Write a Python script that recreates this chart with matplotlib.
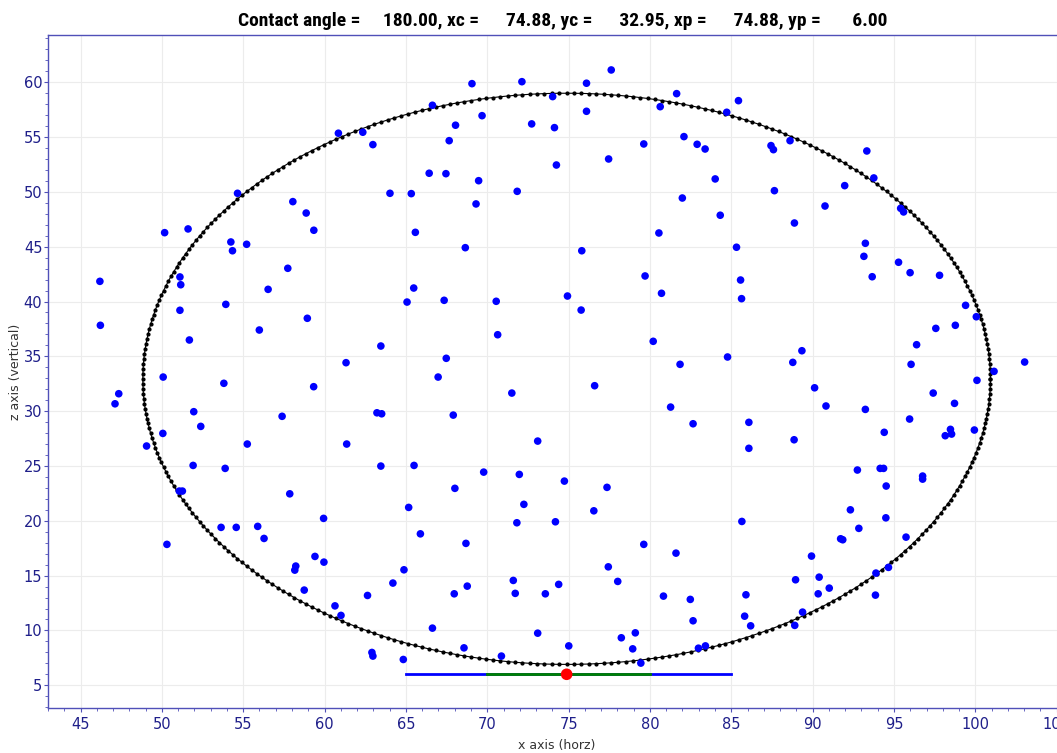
import numpy as np
import matplotlib
matplotlib.use("Agg")
import matplotlib.pyplot as plt
from matplotlib.ticker import MultipleLocator

# fit results shown in the title
contact_angle = 180.00
xc = 74.88
yc = 32.95
xp = 74.88
yp = 6.00
radius = 26.05

# base line segments (outer blue, inner green)
base_x = [65, 85]
inner_x = [70, 80]

# measured points
pts_x = [
    50.17, 51.61, 54.65, 54.24, 54.34, 55.21, 57.74, 58.05, 58.87, 59.34,
    60.85, 62.35, 62.97, 46.19, 46.22, 51.11, 51.16, 51.11, 51.69, 53.93,
    56.53, 55.99, 58.94, 63.46, 61.32, 50.08, 53.81, 59.33, 47.35, 47.12,
    51.96, 52.39, 57.39, 63.22, 63.51, 50.06, 49.06, 55.25, 61.36, 51.92,
    53.89, 63.46, 51.07, 51.26, 50.31, 57.86, 53.64, 54.57, 55.89, 56.28,
    59.94, 59.41, 59.96, 58.23, 58.17, 58.75, 60.64, 61.01, 62.64, 62.91,
    62.97, 69.06, 72.13, 76.10, 77.62, 81.64, 66.63, 74.02, 76.10, 80.63,
    68.05, 69.68, 72.73, 74.13, 67.66, 79.62, 82.09, 82.90, 83.39, 77.46,
    74.25, 66.43, 67.46, 69.47, 64.02, 65.33, 71.84, 69.31, 81.99, 65.58,
    68.65, 75.81, 80.55, 85.44, 84.72, 84.01, 87.44, 87.59, 88.61, 87.65,
    84.32, 88.88, 90.76, 91.97, 93.33, 93.76, 95.41, 95.59, 85.32, 93.24,
    93.15, 95.28, 85.57, 85.63, 93.66, 95.99, 97.80, 99.40, 100.06, 97.57,
    98.77, 96.39, 96.05, 84.77, 89.34, 88.78, 101.15, 103.03, 100.10, 90.12,
    90.82, 93.24, 97.41, 98.72, 95.96, 86.08, 86.08, 88.86, 94.40, 98.47,
    98.54, 98.15, 99.94, 92.75, 94.15, 94.36, 94.52, 96.76, 96.76, 85.65,
    92.32, 94.50, 92.84, 91.72, 91.85, 95.74, 89.93, 88.95, 90.40, 91.02,
    90.34, 93.89, 94.66, 93.86, 85.90, 85.82, 86.19, 88.90, 89.38, 83.41,
    68.01, 77.36, 65.17, 72.25, 76.55, 71.82, 74.19, 65.89, 68.69, 79.62,
    81.60, 64.88, 64.20, 67.97, 68.77, 71.60, 71.72, 73.57, 74.39, 77.44,
    78.02, 80.83, 82.48, 82.65, 66.63, 73.10, 78.24, 79.10, 78.94, 79.44,
    68.57, 70.87, 75.01, 64.84, 82.98, 65.48, 65.07, 67.35, 70.55, 74.93,
    75.77, 79.70, 80.71, 80.20, 81.85, 67.48, 66.98, 70.64, 76.60, 71.51,
    81.27, 82.65, 67.91, 73.10, 65.50, 69.78, 71.97, 74.74,
]
pts_y = [
    46.28, 46.62, 49.87, 45.43, 44.63, 45.22, 43.03, 49.11, 48.07, 46.50,
    55.35, 55.44, 54.31, 41.84, 37.83, 42.24, 41.53, 39.20, 36.49, 39.74,
    41.11, 37.40, 38.47, 35.94, 34.42, 33.11, 32.54, 32.23, 31.59, 30.67,
    29.95, 28.61, 29.53, 29.85, 29.76, 27.97, 26.82, 27.00, 27.00, 25.05,
    24.78, 24.99, 22.71, 22.71, 17.85, 22.46, 19.40, 19.40, 19.49, 18.39,
    20.22, 16.75, 16.23, 15.87, 15.50, 13.68, 12.24, 11.37, 13.19, 7.99,
    7.66, 59.87, 60.05, 59.91, 61.12, 58.96, 57.90, 58.69, 57.35, 57.77,
    56.08, 56.95, 56.20, 55.86, 54.67, 54.37, 55.04, 54.34, 53.91, 53.00,
    52.45, 51.70, 51.66, 51.02, 49.87, 49.84, 50.05, 48.90, 49.44, 46.31,
    44.91, 44.63, 46.25, 58.32, 57.26, 51.18, 54.22, 53.85, 54.67, 50.11,
    47.87, 47.16, 48.71, 50.57, 53.73, 51.27, 48.50, 48.17, 44.95, 45.31,
    44.12, 43.58, 41.96, 40.26, 42.26, 42.63, 42.39, 39.65, 38.61, 37.55,
    37.83, 36.06, 34.27, 34.94, 35.51, 34.45, 33.63, 34.48, 32.81, 32.13,
    30.47, 30.16, 31.65, 30.71, 29.28, 28.98, 26.61, 27.39, 28.07, 28.34,
    27.91, 27.76, 28.28, 24.63, 24.78, 24.78, 23.17, 24.08, 23.80, 19.94,
    21.00, 20.27, 19.31, 18.36, 18.27, 18.51, 16.78, 14.62, 14.86, 13.86,
    13.34, 15.23, 15.75, 13.22, 13.25, 11.30, 10.42, 10.46, 11.67, 8.59,
    22.96, 23.05, 21.22, 21.50, 20.91, 19.82, 19.91, 18.81, 17.94, 17.85,
    17.05, 15.53, 14.32, 13.34, 14.04, 14.56, 13.38, 13.34, 14.20, 15.80,
    14.47, 13.13, 12.83, 10.88, 10.21, 9.75, 9.33, 9.78, 8.32, 7.02,
    8.41, 7.66, 8.59, 7.35, 8.38, 41.23, 39.95, 40.11, 40.02, 40.50,
    39.22, 42.33, 40.75, 36.37, 34.27, 34.82, 33.11, 36.97, 32.32, 31.65,
    30.37, 28.85, 29.64, 27.27, 25.05, 24.44, 24.23, 23.62,
]

navy = "#1f1f8a"
spine_col = "#5050b8"
narrow = ["Liberation Sans Narrow", "DejaVu Sans Condensed", "Roboto Condensed", "DejaVu Sans"]

fig = plt.figure(figsize=(10.57, 7.53), dpi=100)
ax = fig.add_axes([0.0454, 0.0594, 0.962, 0.894])

ax.set_xlim(43.0, 105.5)
ax.set_ylim(2.9, 64.3)

ax.xaxis.set_major_locator(MultipleLocator(5))
ax.xaxis.set_minor_locator(MultipleLocator(1))
ax.yaxis.set_major_locator(MultipleLocator(5))
ax.yaxis.set_minor_locator(MultipleLocator(1))
ax.grid(True, which="major", color="#ececec", lw=0.8, zorder=0)
ax.set_axisbelow(True)

for s in ax.spines.values():
    s.set_color(spine_col)
    s.set_linewidth(1.0)
ax.tick_params(which="major", direction="out", length=3, color=spine_col,
               labelcolor=navy, labelsize=10.5)
ax.tick_params(which="minor", direction="out", length=2, color=spine_col)
ax.tick_params(axis="y", which="major", pad=1)
ax.tick_params(axis="x", which="major", pad=3)

# fitted circle, one dot per degree
theta = np.deg2rad(np.arange(0, 361))
ax.plot(xc + radius * np.cos(theta), yc + radius * np.sin(theta),
        color="black", lw=0.8, marker="o", markersize=2.0, zorder=3)

ax.scatter(pts_x, pts_y, s=30, color="#0000ff", edgecolors="none", zorder=4)

ax.plot(base_x, [yp, yp], color="#0000ff", lw=2, zorder=5)
ax.plot(inner_x, [yp, yp], color="#008000", lw=2, zorder=6)
ax.scatter([xp], [yp], s=70, color="red", edgecolors="none", zorder=7)

ax.set_xlabel("x axis (horz)", fontsize=9, color="#333333", labelpad=5)
ax.set_ylabel("z axis (vertical)", fontsize=9, color="#333333", labelpad=1)

title = ("Contact angle = %10.2f, xc = %10.2f, yc = %10.2f, xp = %10.2f, yp = %10.2f"
         % (contact_angle, xc, yc, xp, yp))
fig.text(0.532, 0.972, title, ha="center", va="center", fontsize=14,
         fontweight="bold", family=narrow)

fig.savefig("out.png", dpi=100)
